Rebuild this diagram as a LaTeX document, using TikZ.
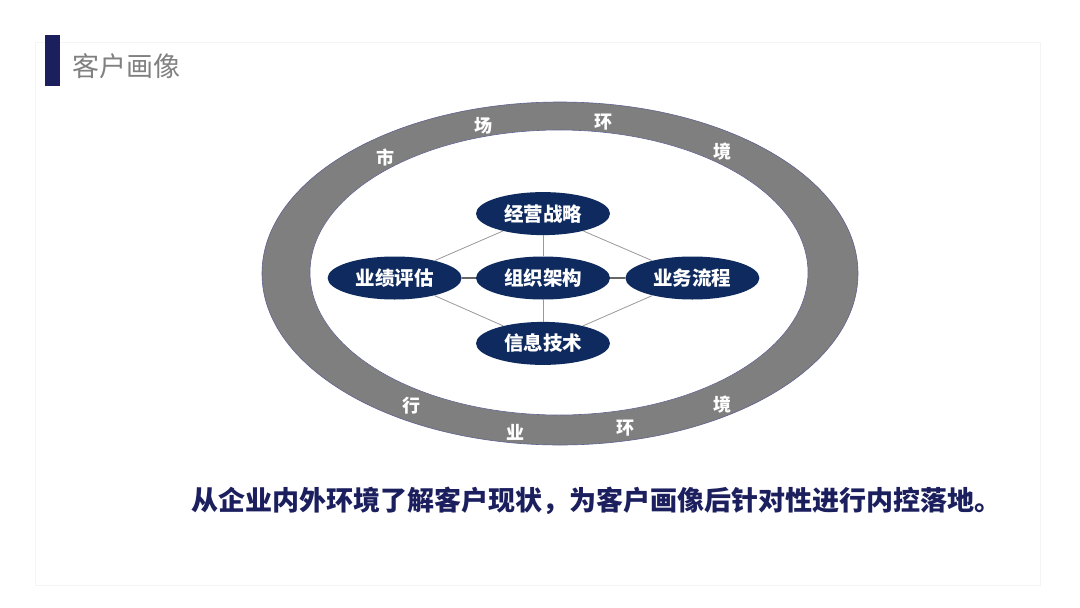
\documentclass[tikz,border=0pt]{standalone}
\usepackage{fontspec}
\usepackage{xcolor}
\usepackage{tikz}
\usetikzlibrary{positioning,shapes.geometric}
\newfontfamily\cjk{Noto Sans CJK SC}
\definecolor{navyfill}{HTML}{0E2A5E}
\definecolor{navybar}{HTML}{1B1F5E}
\definecolor{ringgray}{HTML}{7F7F7F}
\definecolor{titlegray}{HTML}{808080}
\definecolor{cardedge}{HTML}{F4F4F4}

\begin{document}
\begin{tikzpicture}[x=1pt, y=-1pt,
  topic/.style={ellipse, fill=navyfill, minimum width=134pt, minimum height=43pt, inner sep=0pt, align=center, text=white, font=\cjk\bfseries\fontsize{19.5}{19.5}\selectfont},
  ringtxt/.style={text=white, inner sep=0pt, font=\cjk\bfseries\fontsize{18}{18}\selectfont},
  link/.style={draw=gray!80, line width=0.8pt},
  hlink/.style={draw=black!60, line width=1.3pt}
]
  \useasboundingbox (0,0) rectangle (1080,608);
  \fill[white] (0,0) rectangle (1080,608);
  \draw[cardedge, line width=1pt] (35,42) rectangle (1040,585);

  % title
  \fill[navybar] (45,35) rectangle (60,86);
  \node[anchor=west, inner sep=0pt, text=titlegray, font=\cjk\fontsize{27}{27}\selectfont] (title) at (72,66) {客户画像};

  % ring
  \draw[draw=navybar!70, line width=0.6pt, fill=ringgray] (560,273.5) ellipse [x radius=298pt, y radius=171.5pt];
  \draw[draw=navybar!70, line width=0.6pt, fill=white] (559,272.5) ellipse [x radius=249pt, y radius=142.5pt];

  \node[ringtxt] (m1) at (385,157) {市};
  \node[ringtxt] (m2) at (483,126) {场};
  \node[ringtxt] (m3) at (603,122) {环};
  \node[ringtxt] (m4) at (722,152) {境};
  \node[ringtxt] (h1) at (411,406) {行};
  \node[ringtxt] (h2) at (515,432) {业};
  \node[ringtxt] (h3) at (625,428) {环};
  \node[ringtxt] (h4) at (722,405) {境};

  % topics
  \node[topic] (org) at (543,278) {组织架构};
  \node[topic, above=21pt of org] (strategy) {经营战略};
  \node[topic, below=22pt of org] (infotech) {信息技术};
  \node[topic, left=14pt of org] (perf) {业绩评估};
  \node[topic, right=15pt of org] (process) {业务流程};

  \draw[link] (strategy) -- (org);
  \draw[link] (org) -- (infotech);
  \draw[hlink] (perf) -- (org);
  \draw[hlink] (org) -- (process);
  \draw[link] (strategy) -- (perf);
  \draw[link] (strategy) -- (process);
  \draw[link] (infotech) -- (perf);
  \draw[link] (infotech) -- (process);

  % summary
  \node[anchor=west, inner sep=0pt, text=navybar, font=\cjk\bfseries\fontsize{27}{27}\selectfont] (summary) at (191,501) {从企业内外环境了解客户现状，为客户画像后针对性进行内控落地。};
\end{tikzpicture}
\end{document}
